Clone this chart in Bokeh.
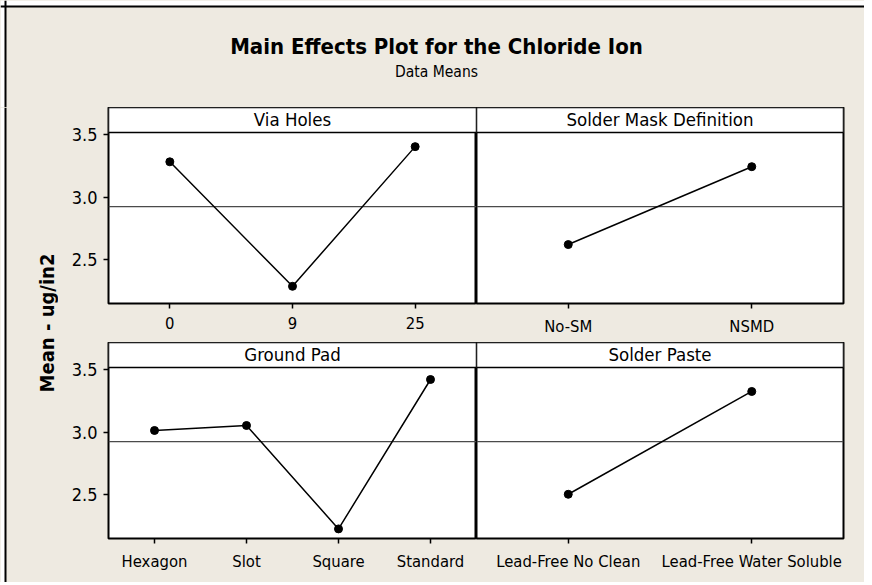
from math import pi

from bokeh.plotting import figure
from bokeh.models import (Span, BoxAnnotation, Label, FixedTicker, Row, Column,
                          Range1d, PrintfTickFormatter)
from bokeh.embed import file_html
from bokeh.resources import INLINE

# ---------------- data ----------------
TITLE = "Main Effects Plot for the Chloride Ion"
SUBTITLE = "Data Means"
Y_LABEL = "Mean - ug/in2"

via_name = "Via Holes"
via_levels = ["0", "9", "25"]
via_means = [3.284, 2.285, 3.406]

mask_name = "Solder Mask Definition"
mask_levels = ["No-SM", "NSMD"]
mask_means = [2.620, 3.245]

pad_name = "Ground Pad"
pad_levels = ["Hexagon", "Slot", "Square", "Standard"]
pad_means = [3.014, 3.054, 2.224, 3.423]

paste_name = "Solder Paste"
paste_levels = ["Lead-Free No Clean", "Lead-Free Water Soluble"]
paste_means = [2.502, 3.327]

grand_mean = 2.925
y_ticks = [2.5, 3.0, 3.5]

# ---------------- style ----------------
BG = "#EEEAE1"
FONT = "DejaVu Sans Condensed"
Y_MIN, Y_MAX = 2.147, 3.72
STRIP_BOTTOM = 3.52
FRAME_H = 196
TOTAL_W = 864
HEADER_H = 107
YL_W = 58


def panel(name, levels, means, left_axis, frame_w, min_left, min_right, min_bottom):
    n = len(levels)
    xs = list(range(1, n + 1))
    p = figure(frame_width=frame_w, frame_height=FRAME_H,
               x_range=Range1d(0.5, n + 0.5), y_range=Range1d(Y_MIN, Y_MAX),
               output_backend="svg", toolbar_location=None,
               min_border_left=min_left, min_border_right=min_right,
               min_border_top=0, min_border_bottom=min_bottom,
               y_axis_location="left" if left_axis else None)
    p.grid.visible = False
    p.background_fill_color = "white"
    p.border_fill_color = BG
    p.outline_line_color = "black"
    p.outline_line_width = 2

    ax = p.xaxis[0]
    ax.ticker = FixedTicker(ticks=xs)
    ax.major_label_overrides = {x: lab for x, lab in zip(xs, levels)}
    axes = [ax]
    if left_axis:
        ay = p.yaxis[0]
        ay.ticker = FixedTicker(ticks=y_ticks)
        ay.formatter = PrintfTickFormatter(format="%.1f")
        axes.append(ay)
    for a in axes:
        a.axis_line_color = None
        a.major_tick_in = 0
        a.major_tick_out = 5
        a.major_tick_line_color = "black"
        a.major_tick_line_width = 1.5
        a.minor_tick_line_color = None
        a.major_label_text_font = FONT
        a.major_label_text_font_size = "16.5px"
        a.major_label_text_color = "black"
    ax.major_label_standoff = 8
    if left_axis:
        ay.major_label_text_font_size = "18px"
        ay.major_label_standoff = 6

    p.add_layout(Span(location=grand_mean, dimension="width",
                      line_color="#4a4a4a", line_width=1.3, level="underlay"))
    p.add_layout(BoxAnnotation(bottom=STRIP_BOTTOM, fill_color="white",
                               fill_alpha=1, line_color="black",
                               line_width=1.5, line_alpha=1))
    p.add_layout(Label(x=(n + 1) / 2, y=(STRIP_BOTTOM + Y_MAX) / 2, text=name,
                       text_align="center", text_baseline="middle",
                       text_font=FONT, text_font_size="18.5px",
                       text_color="black"))

    p.line(xs, means, line_color="black", line_width=1.5)
    p.scatter(xs, means, size=8, color="black")
    return p


tl = panel(via_name, via_levels, via_means, True, 368, 50, 0, 39)
tr = panel(mask_name, mask_levels, mask_means, False, 367, 0, 21, 39)
bl = panel(pad_name, pad_levels, pad_means, True, 368, 50, 0, 44)
br = panel(paste_name, paste_levels, paste_means, False, 367, 0, 21, 44)


def blank(w, h):
    q = figure(width=w, height=h, x_range=Range1d(0, w), y_range=Range1d(0, h),
               output_backend="svg", toolbar_location=None, min_border=0,
               x_axis_location=None, y_axis_location=None)
    q.grid.visible = False
    q.background_fill_color = BG
    q.border_fill_color = BG
    q.outline_line_color = None
    return q


header = blank(TOTAL_W, HEADER_H)
header.add_layout(BoxAnnotation(bottom=HEADER_H - 6, fill_color="white",
                                fill_alpha=1, line_color=None))
header.add_layout(BoxAnnotation(right=5, fill_color="white",
                                fill_alpha=1, line_color=None))
header.add_layout(Span(location=HEADER_H - 6, dimension="width",
                       line_color="black", line_width=2))
header.add_layout(Span(location=5, dimension="height", line_color="black",
                       line_width=2))
header.add_layout(Label(x=TOTAL_W / 2 + 4, y=HEADER_H - 46, text=TITLE,
                        text_align="center", text_baseline="middle",
                        text_font=FONT, text_font_style="bold",
                        text_font_size="22px", text_color="black"))
header.add_layout(Label(x=TOTAL_W / 2 + 4, y=HEADER_H - 71, text=SUBTITLE,
                        text_align="center", text_baseline="middle",
                        text_font=FONT, text_font_size="15.5px",
                        text_color="black"))

YL_H = 2 * FRAME_H + 39 + 44
ylab = blank(YL_W, YL_H)
ylab.add_layout(BoxAnnotation(right=5, fill_color="white",
                              fill_alpha=1, line_color=None))
ylab.add_layout(Span(location=5, dimension="height", line_color="black",
                     line_width=2))
ylab.add_layout(Label(x=46, y=YL_H - 215.5, text=Y_LABEL, angle=pi / 2,
                      text_align="center", text_baseline="middle",
                      text_font=FONT, text_font_style="bold",
                      text_font_size="20px", text_color="black"))

panels = Column(children=[Row(children=[tl, tr], spacing=0),
                          Row(children=[bl, br], spacing=0)], spacing=0)
body = Row(children=[ylab, panels], spacing=0)
layout = Column(children=[header, body], spacing=0,
                styles={"background-color": BG})

open("out.html", "w").write(file_html(layout, INLINE))
